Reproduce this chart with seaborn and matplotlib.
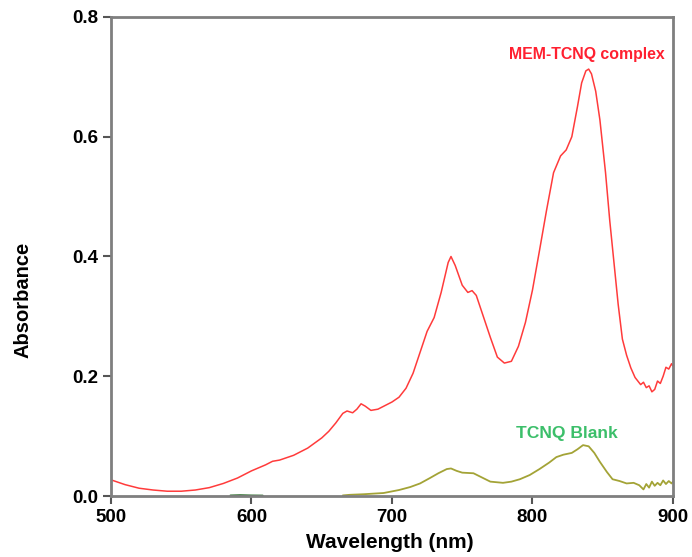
import matplotlib
matplotlib.use("Agg")
import matplotlib.pyplot as plt
import seaborn as sns
import pandas as pd

# MEM-TCNQ complex spectrum
complex_wl = [500, 510, 520, 530, 540, 550, 560, 570, 580, 590, 600, 610, 615, 620, 630, 640,
              650, 655, 660, 665, 668, 672, 675, 678, 681, 685, 690, 700, 705, 710, 715, 720,
              725, 730, 735, 740, 742, 745, 750, 754, 757, 760, 765, 770, 775, 780, 785, 790,
              795, 800, 805, 810, 815, 820, 824, 828, 832, 835, 838, 840, 842, 845, 848, 852,
              855, 858, 861, 864, 867, 870, 873, 875, 877, 879, 881, 883, 885, 887, 889, 891,
              893, 895, 897, 899, 900]
complex_abs = [0.027, 0.019, 0.013, 0.010, 0.008, 0.008, 0.010, 0.014, 0.021, 0.030, 0.042, 0.052, 0.058, 0.060, 0.068, 0.080,
               0.097, 0.108, 0.122, 0.138, 0.142, 0.139, 0.145, 0.154, 0.150, 0.143, 0.145, 0.157, 0.165, 0.180, 0.205, 0.240,
               0.275, 0.298, 0.340, 0.390, 0.400, 0.385, 0.352, 0.340, 0.343, 0.335, 0.300, 0.265, 0.232, 0.222, 0.225, 0.250,
               0.290, 0.344, 0.410, 0.477, 0.540, 0.568, 0.578, 0.600, 0.650, 0.690, 0.710, 0.713, 0.705, 0.676, 0.628, 0.540,
               0.460, 0.390, 0.320, 0.262, 0.235, 0.214, 0.198, 0.192, 0.186, 0.190, 0.181, 0.184, 0.174, 0.178, 0.192, 0.188,
               0.200, 0.215, 0.212, 0.221, 0.217]

# TCNQ blank spectrum
blank_wl = [665, 670, 680, 694, 705, 713, 720, 727, 733, 739, 742, 746, 750, 758, 764, 770,
            779, 785, 791, 798, 805, 812, 817, 822, 828, 832, 836, 840, 844, 848, 853, 857,
            862, 867, 872, 876, 879, 881, 883, 885, 887, 889, 891, 893, 895, 897, 899, 900]
blank_abs = [0.001, 0.002, 0.003, 0.005, 0.010, 0.015, 0.021, 0.030, 0.038, 0.045, 0.046, 0.042, 0.039, 0.038, 0.031, 0.024,
             0.022, 0.024, 0.028, 0.035, 0.045, 0.056, 0.065, 0.069, 0.072, 0.078, 0.085, 0.083, 0.072, 0.057, 0.040, 0.028,
             0.025, 0.021, 0.022, 0.018, 0.011, 0.020, 0.014, 0.024, 0.017, 0.022, 0.018, 0.026, 0.020, 0.025, 0.021, 0.024]

# faint early portion of blank near baseline
blank_low_wl = [585, 592, 600, 608]
blank_low_abs = [0.001, 0.0015, 0.001, 0.0008]

xticks = [500, 600, 700, 800, 900]
yticks = [0.0, 0.2, 0.4, 0.6, 0.8]

sns.set_theme(style="white")
plt.rcParams['font.family'] = ['Liberation Sans', 'DejaVu Sans']

fig = plt.figure(figsize=(6.92, 5.57), dpi=100)
ax = fig.add_axes([0.1604, 0.1095, 0.8121, 0.8600])

df_c = pd.DataFrame({"wl": complex_wl, "abs": complex_abs})
df_b = pd.DataFrame({"wl": blank_wl, "abs": blank_abs})
df_bl = pd.DataFrame({"wl": blank_low_wl, "abs": blank_low_abs})

sns.lineplot(data=df_c, x="wl", y="abs", ax=ax, color="#ff3b3b", linewidth=1.1, sort=False)
sns.lineplot(data=df_b, x="wl", y="abs", ax=ax, color="#a3a336", linewidth=1.3, sort=False)
sns.lineplot(data=df_bl, x="wl", y="abs", ax=ax, color="#2f6f2f", linewidth=1.3, sort=False)

ax.set_xlim(500, 900)
ax.set_ylim(0, 0.8)
ax.set_xticks(xticks)
ax.set_xticklabels([str(t) for t in xticks])
ax.set_yticks(yticks)
ax.set_yticklabels([f"{t:.1f}" for t in yticks])

for s in ax.spines.values():
    s.set_visible(True)
    s.set_color("#7f7f7f")
    s.set_linewidth(2)

ax.tick_params(axis="both", which="both", direction="out", length=6, width=1.5,
               color="#555555", labelsize=13.5, labelcolor="black", pad=3,
               bottom=True, left=True)
for lbl in ax.get_xticklabels() + ax.get_yticklabels():
    lbl.set_fontweight("bold")

ax.set_xlabel("Wavelength (nm)", fontsize=15, fontweight="bold", color="black")
ax.xaxis.set_label_coords(0.497, -0.078)
ax.set_ylabel("Absorbance", fontsize=14.5, fontweight="bold", color="black")
ax.yaxis.set_label_coords(-0.140, 0.41)

ax.text(839, 0.737, "MEM-TCNQ complex", color="#ff2030", fontsize=11.4,
        fontweight="bold", ha="center", va="center")
ax.text(824.5, 0.105, "TCNQ Blank", color="#3cbf6a", fontsize=12.6,
        fontweight="bold", ha="center", va="center")

fig.savefig("out.png", dpi=100)
